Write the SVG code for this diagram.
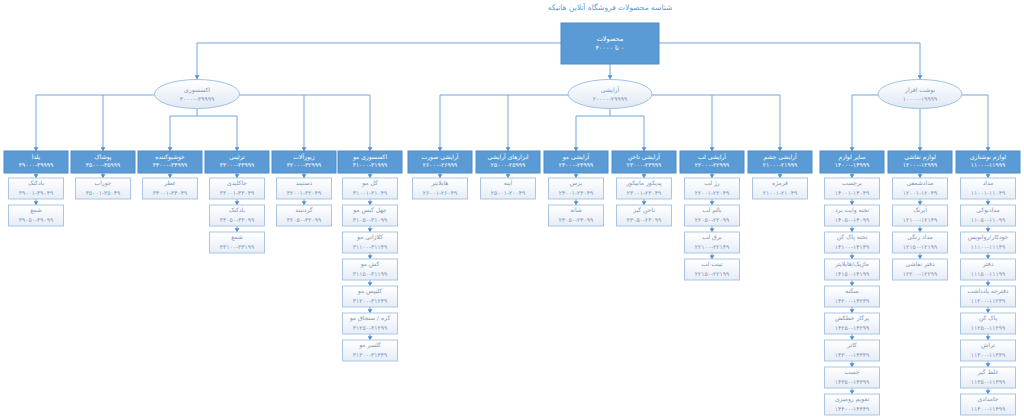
<svg xmlns="http://www.w3.org/2000/svg" width="1024" height="418" viewBox="0 0 1024 418">
<defs>
<linearGradient id="lg" x1="0" y1="0" x2="0" y2="1"><stop offset="0" stop-color="#ffffff"/><stop offset="1" stop-color="#e6edf7"/></linearGradient>
<linearGradient id="eg" x1="0" y1="0" x2="0" y2="1"><stop offset="0" stop-color="#ffffff"/><stop offset="1" stop-color="#dfe8f4"/></linearGradient>
<marker id="ah" viewBox="0 0 8 8" refX="4" refY="8" markerWidth="5" markerHeight="5" markerUnits="userSpaceOnUse" orient="0"><path d="M0,2 L8,2 L4,8 z" fill="#4f8fd0"/></marker>
<style>
.c{stroke:#72a6dc;stroke-width:1;fill:none}
.a{marker-end:url(#ah)}
.b rect{fill:#5b9bd5;stroke:#4f8cc9;stroke-width:1}
.l rect{fill:url(#lg);stroke:#a9c6e6;stroke-width:1}
.e ellipse{fill:url(#eg);stroke:#9dc3e6;stroke-width:1}
text{font-family:"DejaVu Sans",sans-serif;font-size:6px;text-anchor:middle;direction:rtl}
.b text{fill:#ffffff}
.l text,.e text{fill:#7f95b5}
</style>
</defs>
<rect width="1024" height="418" fill="#ffffff"/>
<text x="610" y="10" style="font-size:7.5px;fill:#5b9bd5">شناسه محصولات فروشگاه آنلاین هانیکه</text>

<g id="connectors">
<path class="c a" d="M561,43 H197 V79"/>
<path class="c a" d="M659,43 H920 V79"/>
<path class="c a" d="M610,64 V79"/>
<path class="c a" d="M154.5,95 H36 V151"/>
<path class="c a" d="M103,95 V151"/>
<path class="c a" d="M239.5,95 H370 V151"/>
<path class="c a" d="M304,95 V151"/>
<path class="c a" d="M197,108.5 V116 H170 V151"/>
<path class="c a" d="M197,116 H237 V151"/>
<path class="c a" d="M568,95 H440 V151"/>
<path class="c a" d="M508,95 V151"/>
<path class="c a" d="M652,95 H780 V151"/>
<path class="c a" d="M712,95 V151"/>
<path class="c a" d="M610,108.5 V116 H576 V151"/>
<path class="c a" d="M610,116 H644 V151"/>
<path class="c a" d="M878,95 H852 V151"/>
<path class="c a" d="M962,95 H988 V151"/>
<path class="c a" d="M920,108.5 V151"/>
<!-- leaf chains -->
<path class="c a" d="M36,173 V178"/><path class="c a" d="M36,199 V205"/>
<path class="c a" d="M103,173 V178"/>
<path class="c a" d="M170,173 V178"/>
<path class="c a" d="M237,173 V178"/><path class="c a" d="M237,199 V205"/><path class="c a" d="M237,226 V232"/>
<path class="c a" d="M304,173 V178"/><path class="c a" d="M304,199 V205"/>
<path class="c a" d="M370,173 V178"/><path class="c a" d="M370,199 V205"/><path class="c a" d="M370,226 V232"/><path class="c a" d="M370,253 V259"/><path class="c a" d="M370,280 V286"/><path class="c a" d="M370,307 V313"/><path class="c a" d="M370,334 V340"/>
<path class="c a" d="M440,173 V178"/>
<path class="c a" d="M508,173 V178"/>
<path class="c a" d="M576,173 V178"/><path class="c a" d="M576,199 V205"/>
<path class="c a" d="M644,173 V178"/><path class="c a" d="M644,199 V205"/>
<path class="c a" d="M712,173 V178"/><path class="c a" d="M712,199 V205"/><path class="c a" d="M712,226 V232"/><path class="c a" d="M712,253 V259"/>
<path class="c a" d="M780,173 V178"/>
<path class="c a" d="M852,173 V178"/><path class="c a" d="M852,199 V205"/><path class="c a" d="M852,226 V232"/><path class="c a" d="M852,253 V259"/><path class="c a" d="M852,280 V286"/><path class="c a" d="M852,307 V313"/><path class="c a" d="M852,334 V340"/><path class="c a" d="M852,361 V367"/><path class="c a" d="M852,388 V394"/>
<path class="c a" d="M920,173 V178"/><path class="c a" d="M920,199 V205"/><path class="c a" d="M920,226 V232"/><path class="c a" d="M920,253 V259"/>
<path class="c a" d="M988,173 V178"/><path class="c a" d="M988,199 V205"/><path class="c a" d="M988,226 V232"/><path class="c a" d="M988,253 V259"/><path class="c a" d="M988,280 V286"/><path class="c a" d="M988,307 V313"/><path class="c a" d="M988,334 V340"/><path class="c a" d="M988,361 V367"/><path class="c a" d="M988,388 V394"/>
</g>

<g id="root" class="b"><rect x="561" y="23" width="98" height="41"/><text x="610" y="40.5" style="font-size:6.5px">محصولات</text><text x="610" y="50" style="font-size:6.5px">۰ تا ۴۰۰۰۰</text></g>

<g id="n-accessory" class="e"><ellipse cx="197" cy="94" rx="42.5" ry="14.5"/><text x="197" y="92">اکسسوری</text><text x="197" y="100.5">۳۰۰۰۰-۳۹۹۹۹</text></g>
<g id="n-makeup" class="e"><ellipse cx="610" cy="94" rx="42" ry="14.5"/><text x="610" y="92">آرایشی</text><text x="610" y="100.5">۲۰۰۰۰-۲۹۹۹۹</text></g>
<g id="n-stationery" class="e"><ellipse cx="920" cy="94" rx="42" ry="14.5"/><text x="920" y="92">نوشت افزار</text><text x="920" y="100.5">۱۰۰۰۰-۱۹۹۹۹</text></g>

<!-- level 2 -->
<g id="n-yalda" class="b"><rect x="4" y="151" width="64" height="22"/><text x="36" y="158.5">یلدا</text><text x="36" y="167">۳۹۰۰۰-۳۹۹۹۹</text></g>
<g id="n-clothes" class="b"><rect x="71" y="151" width="64" height="22"/><text x="103" y="158.5">پوشاک</text><text x="103" y="167">۳۵۰۰۰-۳۵۹۹۹</text></g>
<g id="n-fragrance" class="b"><rect x="138" y="151" width="64" height="22"/><text x="170" y="158.5">خوشبوکننده</text><text x="170" y="167">۳۴۰۰۰-۳۴۹۹۹</text></g>
<g id="n-decor" class="b"><rect x="205" y="151" width="64" height="22"/><text x="237" y="158.5">تزئینی</text><text x="237" y="167">۳۳۰۰۰-۳۳۹۹۹</text></g>
<g id="n-jewelry" class="b"><rect x="272" y="151" width="64" height="22"/><text x="304" y="158.5">زیورآلات</text><text x="304" y="167">۳۲۰۰۰-۳۲۹۹۹</text></g>
<g id="n-hairacc" class="b"><rect x="338" y="151" width="64" height="22"/><text x="370" y="158.5">اکسسوری مو</text><text x="370" y="167">۳۱۰۰۰-۳۱۹۹۹</text></g>
<g id="n-face" class="b"><rect x="408" y="151" width="64" height="22"/><text x="440" y="158.5">آرایشی صورت</text><text x="440" y="167">۲۶۰۰۰-۲۶۹۹۹</text></g>
<g id="n-tools" class="b"><rect x="476" y="151" width="64" height="22"/><text x="508" y="158.5">ابزارهای آرایشی</text><text x="508" y="167">۲۵۰۰۰-۲۵۹۹۹</text></g>
<g id="n-hair" class="b"><rect x="544" y="151" width="64" height="22"/><text x="576" y="158.5">آرایشی مو</text><text x="576" y="167">۲۴۰۰۰-۲۴۹۹۹</text></g>
<g id="n-nail" class="b"><rect x="612" y="151" width="64" height="22"/><text x="644" y="158.5">آرایشی ناخن</text><text x="644" y="167">۲۳۰۰۰-۲۳۹۹۹</text></g>
<g id="n-lip" class="b"><rect x="680" y="151" width="64" height="22"/><text x="712" y="158.5">آرایشی لب</text><text x="712" y="167">۲۲۰۰۰-۲۲۹۹۹</text></g>
<g id="n-eye" class="b"><rect x="748" y="151" width="64" height="22"/><text x="780" y="158.5">آرایشی چشم</text><text x="780" y="167">۲۱۰۰۰-۲۱۹۹۹</text></g>
<g id="n-other" class="b"><rect x="820" y="151" width="64" height="22"/><text x="852" y="158.5">سایر لوازم</text><text x="852" y="167">۱۴۰۰۰-۱۴۹۹۹</text></g>
<g id="n-paint" class="b"><rect x="888" y="151" width="64" height="22"/><text x="920" y="158.5">لوازم نقاشی</text><text x="920" y="167">۱۲۰۰۰-۱۲۹۹۹</text></g>
<g id="n-write" class="b"><rect x="956" y="151" width="64" height="22"/><text x="988" y="158.5">لوازم نوشتاری</text><text x="988" y="167">۱۱۰۰۰-۱۱۹۹۹</text></g>

<!-- leaves -->
<g id="l-yalda-1" class="l"><rect x="8.5" y="178" width="55" height="21"/><text x="36" y="185">بادکنک</text><text x="36" y="194.5">۳۹۰۰۱-۳۹۰۴۹</text></g>
<g id="l-yalda-2" class="l"><rect x="8.5" y="205" width="55" height="21"/><text x="36" y="212">شمع</text><text x="36" y="221.5">۳۹۰۵۰-۳۹۰۹۹</text></g>
<g id="l-clothes-1" class="l"><rect x="75.5" y="178" width="55" height="21"/><text x="103" y="185">جوراب</text><text x="103" y="194.5">۳۵۰۰۱-۳۵۰۴۹</text></g>
<g id="l-frag-1" class="l"><rect x="142.5" y="178" width="55" height="21"/><text x="170" y="185">عطر</text><text x="170" y="194.5">۳۴۰۰۱-۳۴۰۴۹</text></g>
<g id="l-decor-1" class="l"><rect x="209.5" y="178" width="55" height="21"/><text x="237" y="185">جاکلیدی</text><text x="237" y="194.5">۳۳۰۰۱-۳۳۰۴۹</text></g>
<g id="l-decor-2" class="l"><rect x="209.5" y="205" width="55" height="21"/><text x="237" y="212">بادکنک</text><text x="237" y="221.5">۳۳۰۵۰-۳۳۰۹۹</text></g>
<g id="l-decor-3" class="l"><rect x="209.5" y="232" width="55" height="21"/><text x="237" y="239">شمع</text><text x="237" y="248.5">۳۳۱۰۰-۳۳۱۹۹</text></g>
<g id="l-jew-1" class="l"><rect x="276.5" y="178" width="55" height="21"/><text x="304" y="185">دستبند</text><text x="304" y="194.5">۳۲۰۰۱-۳۲۰۴۹</text></g>
<g id="l-jew-2" class="l"><rect x="276.5" y="205" width="55" height="21"/><text x="304" y="212">گردنبند</text><text x="304" y="221.5">۳۲۰۵۰-۳۲۰۹۹</text></g>
<g id="l-hairacc-1" class="l"><rect x="342.5" y="178" width="55" height="21"/><text x="370" y="185">گل مو</text><text x="370" y="194.5">۳۱۰۰۱-۳۱۰۴۹</text></g>
<g id="l-hairacc-2" class="l"><rect x="342.5" y="205" width="55" height="21"/><text x="370" y="212">چهل گیس مو</text><text x="370" y="221.5">۳۱۰۵۰-۳۱۰۹۹</text></g>
<g id="l-hairacc-3" class="l"><rect x="342.5" y="232" width="55" height="21"/><text x="370" y="239">کلاژاتی مو</text><text x="370" y="248.5">۳۱۱۰۰-۳۱۱۴۹</text></g>
<g id="l-hairacc-4" class="l"><rect x="342.5" y="259" width="55" height="21"/><text x="370" y="266">کش مو</text><text x="370" y="275.5">۳۱۱۵۰-۳۱۱۹۹</text></g>
<g id="l-hairacc-5" class="l"><rect x="342.5" y="286" width="55" height="21"/><text x="370" y="293">کلیپس مو</text><text x="370" y="302.5">۳۱۲۰۰-۳۱۲۴۹</text></g>
<g id="l-hairacc-6" class="l"><rect x="342.5" y="313" width="55" height="21"/><text x="370" y="320">گره / سنجاق مو</text><text x="370" y="329.5">۳۱۲۵۰-۳۱۲۹۹</text></g>
<g id="l-hairacc-7" class="l"><rect x="342.5" y="340" width="55" height="21"/><text x="370" y="347">گلسر مو</text><text x="370" y="356.5">۳۱۳۰۰-۳۱۳۴۹</text></g>

<g id="l-face-1" class="l"><rect x="412.5" y="178" width="55" height="21"/><text x="440" y="185">هایلایتر</text><text x="440" y="194.5">۲۶۰۰۱-۲۶۰۴۹</text></g>
<g id="l-tools-1" class="l"><rect x="480.5" y="178" width="55" height="21"/><text x="508" y="185">آینه</text><text x="508" y="194.5">۲۵۰۰۱-۲۰۰۴۹</text></g>
<g id="l-hair-1" class="l"><rect x="548.5" y="178" width="55" height="21"/><text x="576" y="185">برس</text><text x="576" y="194.5">۲۴۰۰۱-۲۴۰۴۹</text></g>
<g id="l-hair-2" class="l"><rect x="548.5" y="205" width="55" height="21"/><text x="576" y="212">شانه</text><text x="576" y="221.5">۲۴۰۵۰-۲۴۰۹۹</text></g>
<g id="l-nail-1" class="l"><rect x="616.5" y="178" width="55" height="21"/><text x="644" y="185">پدیکور مانیکور</text><text x="644" y="194.5">۲۳۰۰۱-۲۳۰۴۹</text></g>
<g id="l-nail-2" class="l"><rect x="616.5" y="205" width="55" height="21"/><text x="644" y="212">ناخن گیر</text><text x="644" y="221.5">۲۳۰۵۰-۲۳۰۹۹</text></g>
<g id="l-lip-1" class="l"><rect x="684.5" y="178" width="55" height="21"/><text x="712" y="185">رژ لب</text><text x="712" y="194.5">۲۲۰۰۱-۲۲۰۴۹</text></g>
<g id="l-lip-2" class="l"><rect x="684.5" y="205" width="55" height="21"/><text x="712" y="212">بالم لب</text><text x="712" y="221.5">۲۲۰۵۰-۲۲۰۹۹</text></g>
<g id="l-lip-3" class="l"><rect x="684.5" y="232" width="55" height="21"/><text x="712" y="239">برق لب</text><text x="712" y="248.5">۲۲۱۰۰-۲۲۱۴۹</text></g>
<g id="l-lip-4" class="l"><rect x="684.5" y="259" width="55" height="21"/><text x="712" y="266">تینت لب</text><text x="712" y="275.5">۲۲۱۵۰-۲۲۱۹۹</text></g>
<g id="l-eye-1" class="l"><rect x="752.5" y="178" width="55" height="21"/><text x="780" y="185">فرمژه</text><text x="780" y="194.5">۲۱۰۰۱-۲۱۰۴۹</text></g>

<g id="l-other-1" class="l"><rect x="824.5" y="178" width="55" height="21"/><text x="852" y="185">برچسب</text><text x="852" y="194.5">۱۴۰۰۱-۱۴۰۴۹</text></g>
<g id="l-other-2" class="l"><rect x="824.5" y="205" width="55" height="21"/><text x="852" y="212">تخته وایت برد</text><text x="852" y="221.5">۱۴۰۵۰-۱۴۰۹۹</text></g>
<g id="l-other-3" class="l"><rect x="824.5" y="232" width="55" height="21"/><text x="852" y="239">تخته پاک کن</text><text x="852" y="248.5">۱۴۱۰۰-۱۴۱۴۹</text></g>
<g id="l-other-4" class="l"><rect x="824.5" y="259" width="55" height="21"/><text x="852" y="266">ماژیک/هایلایتر</text><text x="852" y="275.5">۱۴۱۵۰-۱۴۱۹۹</text></g>
<g id="l-other-5" class="l"><rect x="824.5" y="286" width="55" height="21"/><text x="852" y="293">منگنه</text><text x="852" y="302.5">۱۴۲۰۰-۱۴۲۴۹</text></g>
<g id="l-other-6" class="l"><rect x="824.5" y="313" width="55" height="21"/><text x="852" y="320">پرگار خطکش</text><text x="852" y="329.5">۱۴۲۵۰-۱۴۲۹۹</text></g>
<g id="l-other-7" class="l"><rect x="824.5" y="340" width="55" height="21"/><text x="852" y="347">کاتر</text><text x="852" y="356.5">۱۴۳۰۰-۱۴۳۴۹</text></g>
<g id="l-other-8" class="l"><rect x="824.5" y="367" width="55" height="21"/><text x="852" y="374">چسب</text><text x="852" y="383.5">۱۴۳۵۰-۱۴۳۹۹</text></g>
<g id="l-other-9" class="l"><rect x="824.5" y="394" width="55" height="21"/><text x="852" y="401">تقویم رومیزی</text><text x="852" y="410.5">۱۴۴۰۰-۱۴۴۴۹</text></g>

<g id="l-paint-1" class="l"><rect x="892.5" y="178" width="55" height="21"/><text x="920" y="185">مدادشمعی</text><text x="920" y="194.5">۱۲۰۰۱-۱۲۰۴۹</text></g>
<g id="l-paint-2" class="l"><rect x="892.5" y="205" width="55" height="21"/><text x="920" y="212">آبرنگ</text><text x="920" y="221.5">۱۲۱۰۰-۱۲۱۴۹</text></g>
<g id="l-paint-3" class="l"><rect x="892.5" y="232" width="55" height="21"/><text x="920" y="239">مداد رنگی</text><text x="920" y="248.5">۱۲۱۵۰-۱۲۱۹۹</text></g>
<g id="l-paint-4" class="l"><rect x="892.5" y="259" width="55" height="21"/><text x="920" y="266">دفتر نقاشی</text><text x="920" y="275.5">۱۲۲۰۰-۱۲۲۹۹</text></g>

<g id="l-write-1" class="l"><rect x="960.5" y="178" width="55" height="21"/><text x="988" y="185">مداد</text><text x="988" y="194.5">۱۱۰۰۱-۱۱۰۴۹</text></g>
<g id="l-write-2" class="l"><rect x="960.5" y="205" width="55" height="21"/><text x="988" y="212">مدادنوکی</text><text x="988" y="221.5">۱۱۰۵۰-۱۱۰۹۹</text></g>
<g id="l-write-3" class="l"><rect x="960.5" y="232" width="55" height="21"/><text x="988" y="239">خودکار/روانویس</text><text x="988" y="248.5">۱۱۱۰۰-۱۱۱۴۹</text></g>
<g id="l-write-4" class="l"><rect x="960.5" y="259" width="55" height="21"/><text x="988" y="266">دفتر</text><text x="988" y="275.5">۱۱۱۵۰-۱۱۱۹۹</text></g>
<g id="l-write-5" class="l"><rect x="960.5" y="286" width="55" height="21"/><text x="988" y="293">دفترچه یادداشت</text><text x="988" y="302.5">۱۱۲۰۰-۱۱۲۴۹</text></g>
<g id="l-write-6" class="l"><rect x="960.5" y="313" width="55" height="21"/><text x="988" y="320">پاک کن</text><text x="988" y="329.5">۱۱۲۵۰-۱۱۲۹۹</text></g>
<g id="l-write-7" class="l"><rect x="960.5" y="340" width="55" height="21"/><text x="988" y="347">تراش</text><text x="988" y="356.5">۱۱۳۰۰-۱۱۳۴۹</text></g>
<g id="l-write-8" class="l"><rect x="960.5" y="367" width="55" height="21"/><text x="988" y="374">غلط گیر</text><text x="988" y="383.5">۱۱۳۵۰-۱۱۳۹۹</text></g>
<g id="l-write-9" class="l"><rect x="960.5" y="394" width="55" height="21"/><text x="988" y="401">جامدادی</text><text x="988" y="410.5">۱۱۴۰۰-۱۱۴۹۹</text></g>
</svg>
